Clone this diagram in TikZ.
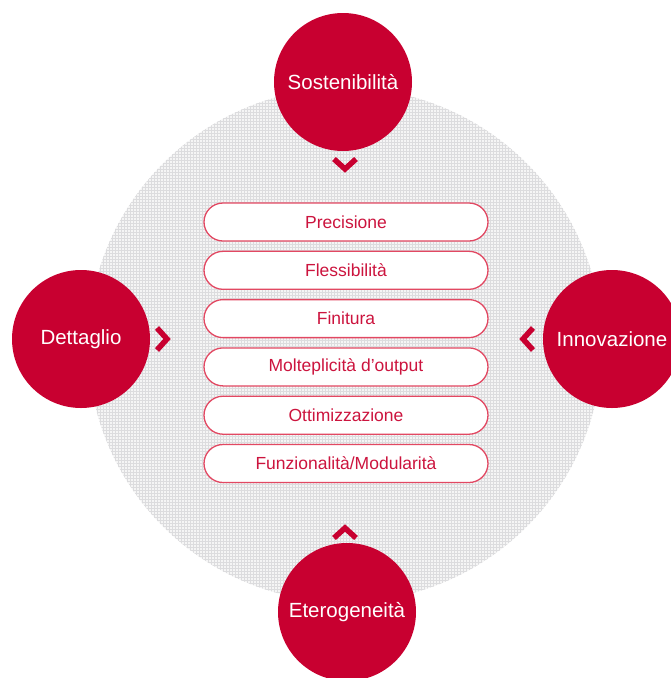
\documentclass[tikz,border=0pt]{standalone}
\usepackage{fontspec}
\setmainfont{Liberation Sans}
\usetikzlibrary{positioning}
\definecolor{rosso}{RGB}{200,0,48}
\definecolor{bordo}{RGB}{226,72,98}
\definecolor{testo}{RGB}{204,20,62}
\definecolor{retino}{RGB}{220,220,222}
\begin{document}
\begin{tikzpicture}[x=1pt,y=-1pt,
  tema/.style={circle,fill=rosso,text=white,minimum size=138pt,inner sep=0pt,font=\fontsize{20.5}{24}\selectfont},
  voce/.style={draw=bordo,line width=1.3pt,fill=white,rounded corners=19pt,minimum width=284pt,minimum height=38pt,inner sep=0pt,text=testo,font=\fontsize{17.5}{20}\selectfont},
  freccia/.style={draw=rosso,line width=5.5pt,miter limit=10}]
\useasboundingbox (0,0) rectangle (670,678);
% sfondo retinato
\fill[black!4] (345,345) circle (257);
\begin{scope}
\clip (345,345) circle (257);
\foreach \k in {0,3,...,516}{
  \draw[retino,line width=0.9pt] (88+\k,80) -- (88+\k,610);
  \draw[retino,line width=0.9pt] (80,88+\k) -- (610,88+\k);
}
\end{scope}
% frecce
\draw[freccia] (334,159) -- (345,169) -- (356,159);
\draw[freccia] (157,328) -- (167,339) -- (157,350);
\draw[freccia] (533,328) -- (523,339) -- (533,350);
\draw[freccia] (334,538) -- (345,528) -- (356,538);
% temi
\node[tema] (sost) at (343,82) {Sostenibilità};
\node[tema] (dett) at (81,339) {Dettaglio};
\node[tema] (inno) at (612,339) {Innovazione};
\node[tema] (eter) at (347,612) {Eterogeneità};
% voci
\node[voce] (prec) at (346,222) {Precisione};
\node[voce,below=9pt of prec] (fles) {Flessibilità};
\node[voce,below=9pt of fles] (fini) {Finitura};
\node[voce,below=9pt of fini] (molt) {Molteplicità d’output};
\node[voce,below=9pt of molt] (otti) {Ottimizzazione};
\node[voce,below=9pt of otti] (funz) {Funzionalità/Modularità};
\end{tikzpicture}
\end{document}
